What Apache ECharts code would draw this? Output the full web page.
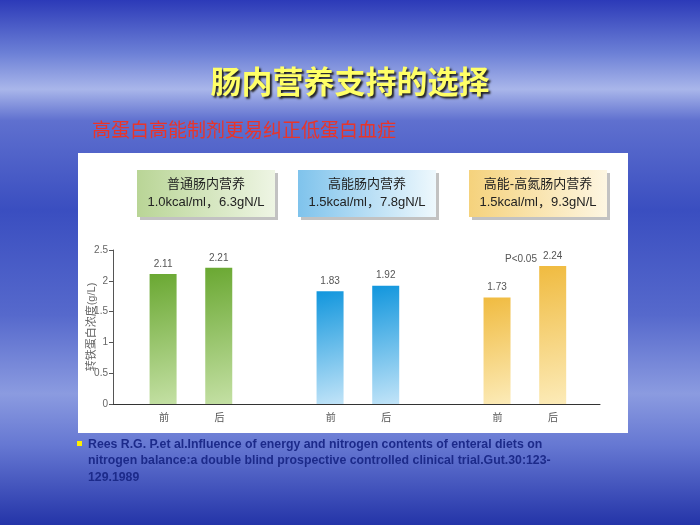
<!DOCTYPE html>
<html><head><meta charset="utf-8">
<script src="https://cdn.jsdelivr.net/npm/echarts@6/dist/echarts.min.js"></script>
<style>html,body{margin:0;padding:0}#c{width:700px;height:525px}</style>
</head><body><div id="c"></div>
<script>
const categories = ['前','后','','前','后','','前','后'];
const barPositions = [0.9, 1.9, 3.9, 4.9, 6.9, 7.9];
const barValues = [2.11, 2.21, 1.83, 1.92, 1.73, 2.24];
const groupNames = ['普通肠内营养', '高能肠内营养', '高能-高氮肠内营养'];
const groupSpecs = ['1.0kcal/ml，6.3gN/L', '1.5kcal/ml，7.8gN/L', '1.5kcal/ml，9.3gN/L'];
const yTicks = [0, 0.5, 1, 1.5, 2, 2.5];

const grad = (a, b) => new echarts.graphic.LinearGradient(0, 0, 1, 1, [{offset:0,color:a},{offset:1,color:b}]);
const barColors = [
  grad('#6aa832','#c4e0a4'), grad('#6aa832','#c4e0a4'),
  grad('#1196dd','#c2e4f8'), grad('#1196dd','#c2e4f8'),
  grad('#f0bb40','#fcebb8'), grad('#f0bb40','#fcebb8')
];
const boxColors = [['#b9d596','#eef5e4'],['#7fc3ec','#eef8fd'],['#f5d27c','#fdf6e2']];
const boxX = [137, 298, 469];
const FONT = 'Liberation Sans, Noto Sans CJK SC';

const chart = echarts.init(document.getElementById('c'));
const graphics = [
  {type:'rect', shape:{x:78,y:153,width:550,height:280}, style:{fill:'#fff'}, z:-1},
  {type:'text', left:'center', top:66, style:{text:'肠内营养支持的选择', fontSize:31, fontWeight:'bold', fill:'#ffff66', fontFamily:'Noto Sans CJK SC', textShadowColor:'#222', textShadowBlur:2, textShadowOffsetX:2, textShadowOffsetY:2}},
  {type:'text', left:92, top:120, style:{text:'高蛋白高能制剂更易纠正低蛋白血症', fontSize:19, fill:'#e8352a', fontFamily:'Noto Sans CJK SC'}},
  {type:'rect', shape:{x:77,y:441,width:5,height:5}, style:{fill:'#ffee00'}},
  {type:'text', left:88, top:436, style:{text:'Rees R.G. P.et al.Influence of energy and nitrogen contents of enteral diets on\nnitrogen balance:a double blind prospective controlled clinical trial.Gut.30:123-\n129.1989', fontSize:12.3, fontWeight:'bold', lineHeight:16.5, fill:'#1c2a8a', fontFamily:'Liberation Sans'}},
  {type:'text', left:505, top:254, style:{text:'P<0.05', fontSize:10, fill:'#555', fontFamily:'Liberation Sans'}},
  {type:'text', x:92, y:327, rotation:Math.PI/2, style:{text:'转铁蛋白浓度(g/L)', align:'center', verticalAlign:'middle', fontSize:11, fill:'#666', fontFamily:FONT}}
];
boxX.forEach((x,i)=>{
  graphics.push({type:'rect', shape:{x:x+3,y:173,width:138,height:47}, style:{fill:'#999', opacity:0.6}});
  graphics.push({type:'rect', shape:{x:x,y:170,width:138,height:47}, style:{fill:new echarts.graphic.LinearGradient(0,0,1,0,[{offset:0,color:boxColors[i][0]},{offset:1,color:boxColors[i][1]}])}});
  graphics.push({type:'text', x:x+69, y:193.5, style:{text:groupNames[i]+'\n'+groupSpecs[i], align:'center', verticalAlign:'middle', fontSize:13, lineHeight:18, fill:'#222', fontFamily:FONT}});
});

chart.setOption({
  backgroundColor: new echarts.graphic.LinearGradient(0,0,0,1,[
    {offset:0,color:'#2c3ab8'},{offset:0.1,color:'#6b7fd6'},{offset:0.17,color:'#a9b6ea'},
    {offset:0.23,color:'#5f70cf'},{offset:0.4,color:'#3a4ec0'},{offset:0.6,color:'#5669cc'},
    {offset:0.75,color:'#8b9be0'},{offset:0.85,color:'#6577d2'},{offset:1,color:'#2434a8'}]),
  animation:false,
  graphic: graphics,
  grid:[{left:113, right:100, top:250, bottom:121},{left:164, right:147, top:250, bottom:121}],
  xAxis:[
    {type:'value', gridIndex:0, min:0, max:8.75, axisLine:{show:true,lineStyle:{color:'#333'}}, axisTick:{show:false}, axisLabel:{show:false}, splitLine:{show:false}},
    {type:'category', gridIndex:1, data:categories, boundaryGap:false, axisLine:{show:false}, axisTick:{show:false}, axisLabel:{color:'#555', fontSize:10, margin:8, interval:0, fontFamily:'Noto Sans CJK SC'}}
  ],
  yAxis:[
    {type:'value', gridIndex:0, min:0, max:2.5, interval:0.5,
     axisLine:{show:true,lineStyle:{color:'#555'}}, axisTick:{show:true,length:4}, splitLine:{show:false},
     axisLabel:{color:'#666', fontSize:10, margin:5, formatter:v=>yTicks.includes(v)?String(v):''}},
    {type:'value', gridIndex:1, min:0, max:2.5, show:false}
  ],
  series:[{
    type:'bar', xAxisIndex:0, yAxisIndex:0, barWidth:27,
    data: barPositions.map((x,i)=>({value:[x, barValues[i]], itemStyle:{color:barColors[i]}})),
    label:{show:true, position:'top', color:'#555', fontSize:10, distance:5, fontFamily:'Liberation Sans'}
  },{
    type:'line', xAxisIndex:1, yAxisIndex:1, data:[], showSymbol:false
  }]
});
</script></body></html>
